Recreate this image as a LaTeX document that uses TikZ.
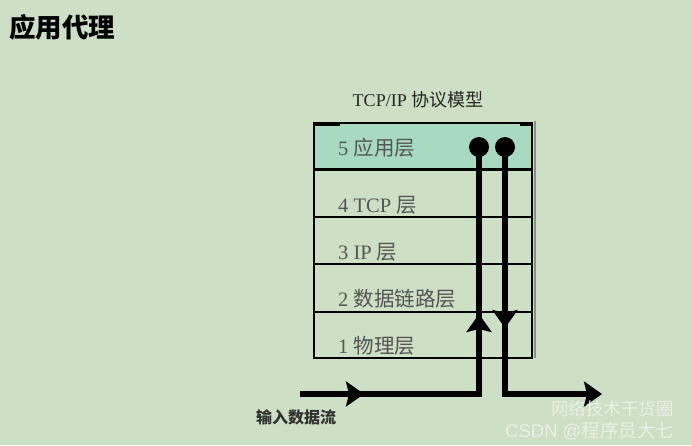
\documentclass[tikz,border=0pt]{standalone}
\usepackage{fontspec}
\setmainfont{Liberation Serif}
\newfontfamily\cjk{Noto Sans CJK SC}
\newfontfamily\wmfont{Liberation Sans}
\usetikzlibrary{arrows.meta,decorations.markings}
\definecolor{bg}{RGB}{205,223,196}
\definecolor{appfill}{RGB}{168,218,194}
\definecolor{labelgray}{RGB}{85,85,85}
\definecolor{wmgray}{RGB}{235,240,232}
\tikzset{
  layer/.style={draw=black,line width=1.8pt,minimum width=218pt,inner sep=0pt,outer sep=0pt},
  laytext/.style={anchor=west,text=labelgray,font=\fontsize{20.5}{22}\selectfont,inner sep=0pt},
  flow/.style={line width=6pt},
  bigtip/.tip={Stealth[length=18pt 0,width=25pt 0,inset=3pt 0]},
  dot/.style={circle,fill=black,minimum size=20pt,inner sep=0pt}
}
\begin{document}
\begin{tikzpicture}[x=1pt,y=-1pt]
\fill[bg] (0,0) rectangle (692,445);
\useasboundingbox (0,0) rectangle (692,445);

% title
\node[anchor=west,inner sep=0pt,font=\cjk\bfseries\fontsize{26.5}{28}\selectfont] (title) at (9,27) {应用代理};
\node[inner sep=0pt,font=\fontsize{18}{20}\selectfont,text=black!85] (model) at (418,100) {TCP/IP {\cjk 协议模型}};

% layers
\node[layer,fill=appfill,minimum height=46pt] (L5) at (423,146) {};
\node[layer,minimum height=48pt] (L4) at (423,193) {};
\node[layer,minimum height=47pt] (L3) at (423,240.5) {};
\node[layer,minimum height=48pt] (L2) at (423,288) {};
\node[layer,minimum height=46pt] (L1) at (423,335) {};
\draw[line width=3pt] (L5.south west) -- (L5.south east);
\draw[line width=4pt] ([yshift=-1pt]L5.north west) -- ([xshift=26pt,yshift=-1pt]L5.north west);
\draw[line width=4pt] ([xshift=-12pt,yshift=-1pt]L5.north east) -- ([yshift=-1pt]L5.north east);
\draw[line width=2pt,black!45] ([xshift=2.5pt,yshift=2pt]L5.north east) -- ([xshift=2.5pt]L1.south east);

\node[laytext] (t5) at (338,148) {5 {\cjk 应用层}};
\node[laytext] (t4) at (338,205) {4 TCP {\cjk 层}};
\node[laytext] (t3) at (338,252) {3 IP {\cjk 层}};
\node[laytext] (t2) at (338,299) {2 {\cjk 数据链路层}};
\node[laytext] (t1) at (338,346) {1 {\cjk 物理层}};

% flow
\coordinate (in) at (300,394);
\coordinate (c1) at (479,394);
\node[dot] (dL) at (479,147) {};
\node[dot] (dR) at (505,147) {};
\coordinate (c2) at (505,394);
\coordinate (out) at (602,394);

\draw[flow,postaction={decorate},decoration={markings,
  mark=at position 64pt with {\arrow{bigtip}},
  mark=at position 259pt with {\arrow{bigtip}}}]
  (in) -- (c1) -- (dL.center);
\draw[flow,-bigtip,postaction={decorate},decoration={markings,
  mark=at position 181pt with {\arrow{bigtip}}}]
  (dR.center) -- (c2) -- (out);

\node[anchor=west,inner sep=0pt,text=black!80,font=\cjk\bfseries\fontsize{16}{18}\selectfont] (inlabel) at (256,417) {输入数据流};

% watermark
\node[anchor=west,inner sep=0pt,text=wmgray,font=\cjk\fontsize{17.5}{19}\selectfont] (wm1) at (551,409) {网络技术干货圈};
\node[anchor=west,inner sep=0pt,text=wmgray,font=\fontsize{18.5}{20}\selectfont] (wm2) at (505,431) {\wmfont CSDN @{\cjk 程序员大七}};
\end{tikzpicture}
\end{document}
